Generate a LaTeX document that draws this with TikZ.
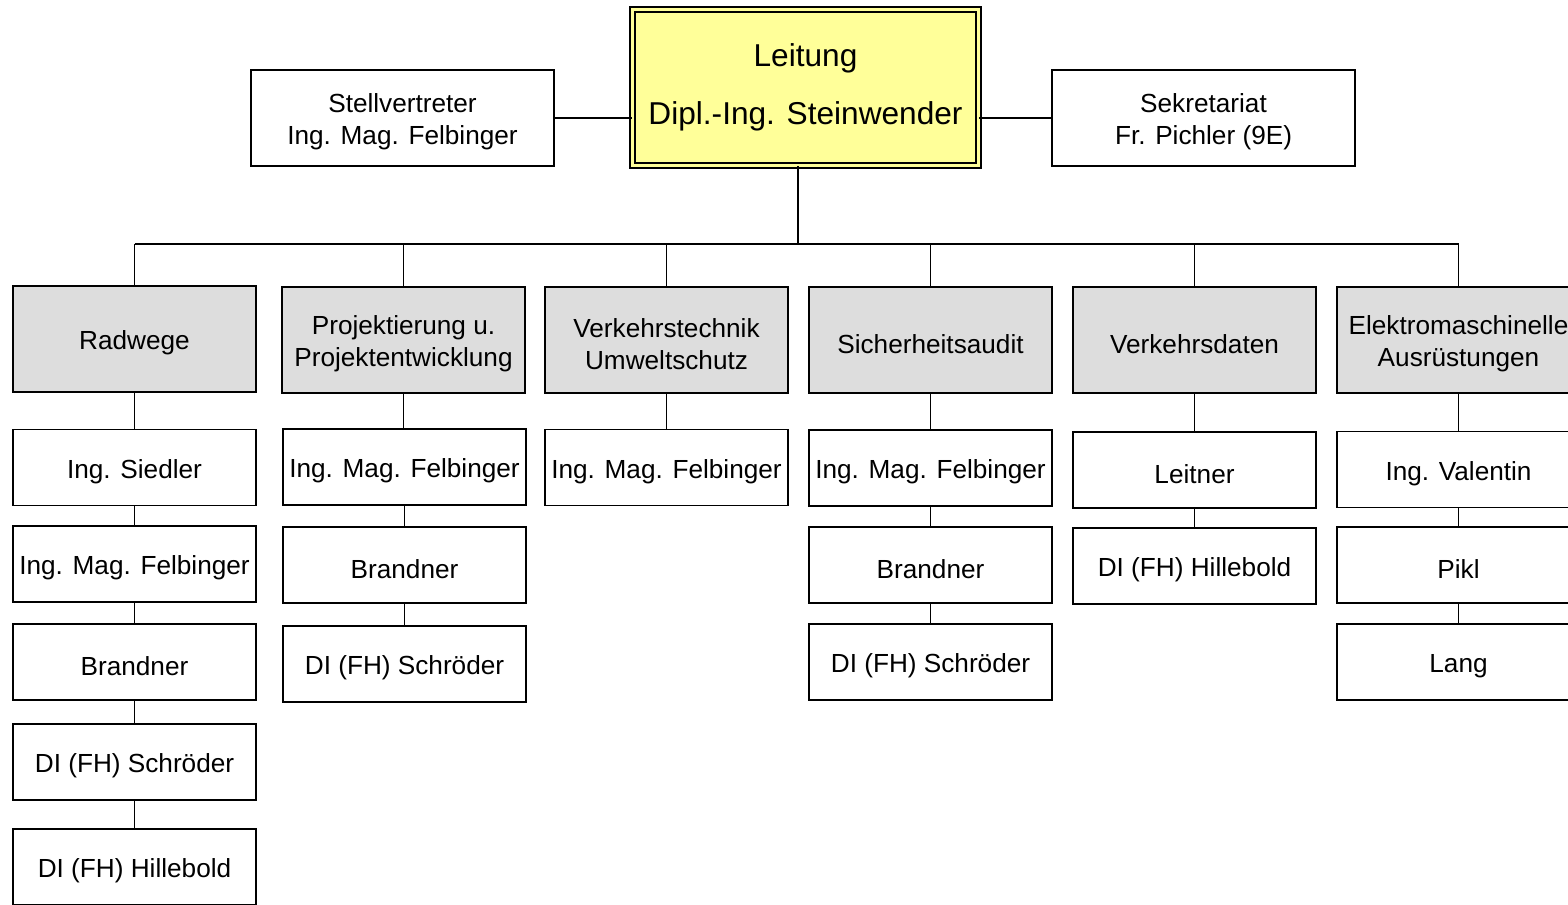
\documentclass[tikz,border=0pt]{standalone}
\usepackage{fontspec}
\setmainfont{Liberation Sans}
\definecolor{leitgelb}{HTML}{FFFF99}
\definecolor{bereichgrau}{HTML}{DDDDDD}
\tikzset{
  kasten/.style={draw, line width=1.1pt, fill=white, inner sep=0pt, align=center,
    minimum width=4.86cm, minimum height=1.52cm, font=\fontsize{14.9}{18.2}\selectfont,
    execute at begin node={\rule{0pt}{15.4pt}}},
  zwei/.style={execute at begin node={\rule{0pt}{33.6pt}}},
  bereich/.style={kasten, fill=bereichgrau, minimum height=2.12cm},
  stab/.style={kasten, zwei, minimum width=6.06cm, minimum height=1.92cm},
  linie/.style={line width=1.1pt},
}
\begin{document}
\begin{tikzpicture}[x=0.02cm,y=-0.02cm]
\clip (0,0) rectangle (1568,904);
\fill[white] (0,0) rectangle (1568,904);

% Leitung und Stab
\node[draw, line width=1.1pt, double=leitgelb, double distance=1.6pt, fill=leitgelb,
  minimum width=6.92cm, minimum height=3.12cm, inner sep=0pt, align=center,
  font=\fontsize{18}{33}\selectfont] (leitung) at (805.5,87.5) {Leitung\\Dipl.-Ing. Steinwender};
\node[stab] (stellv) at (402.5,118) {Stellvertreter\\Ing. Mag. Felbinger};
\node[stab] (sekr) at (1203.5,118) {Sekretariat\\Fr. Pichler (9E)};
\draw[linie] (stellv.east) -- (stellv.east -| leitung.west);
\draw[linie] (sekr.west) -- (sekr.west -| leitung.east);

% Bereiche
\node[bereich] (radwege) at (134.5,339) {Radwege};
\node[bereich, zwei] (projekt) at (403.5,340) {Projektierung u.\\Projektentwicklung};
\node[bereich, zwei] (vtechnik) at (666.5,340) {Verkehrstechnik\\Umweltschutz};
\node[bereich] (audit) at (930.5,340) {Sicherheitsaudit};
\node[bereich] (vdaten) at (1194.5,340) {Verkehrsdaten};
\node[bereich, zwei] (emaschin) at (1458.5,340) {Elektromaschinelle\\Ausrüstungen};

\coordinate (bus) at (798,244);
\draw[linie] (bus) -- (bus |- leitung.south);
\draw[linie] (bus -| radwege) -- (bus -| emaschin);
\foreach \b in {radwege,projekt,vtechnik,audit,vdaten,emaschin}
  \draw[linie] (\b.north) -- (bus -| \b.north);

% Radwege
\node[kasten] (rw1) at (134.5,467.5) {Ing. Siedler};
\node[kasten] (rw2) at (134.5,564) {Ing. Mag. Felbinger};
\node[kasten] (rw3) at (134.5,662) {Brandner};
\node[kasten] (rw4) at (134.5,762) {DI (FH) Schröder};
\node[kasten] (rw5) at (134.5,867) {DI (FH) Hillebold};
\draw[linie] (radwege) -- (rw1) -- (rw2) -- (rw3) -- (rw4) -- (rw5);

% Projektierung
\node[kasten] (pj1) at (404.5,467) {Ing. Mag. Felbinger};
\node[kasten] (pj2) at (404.5,565) {Brandner};
\node[kasten] (pj3) at (404.5,664) {DI (FH) Schröder};
\draw[linie] (projekt.south) -- (projekt.south |- pj1.north);
\draw[linie] (pj1) -- (pj2) -- (pj3);

% Verkehrstechnik
\node[kasten] (vt1) at (666.5,467.5) {Ing. Mag. Felbinger};
\draw[linie] (vtechnik) -- (vt1);

% Sicherheitsaudit
\node[kasten] (sa1) at (930.5,468) {Ing. Mag. Felbinger};
\node[kasten] (sa2) at (930.5,565) {Brandner};
\node[kasten] (sa3) at (930.5,662) {DI (FH) Schröder};
\draw[linie] (audit) -- (sa1) -- (sa2) -- (sa3);

% Verkehrsdaten
\node[kasten] (vd1) at (1194.5,470) {Leitner};
\node[kasten] (vd2) at (1194.5,566) {DI (FH) Hillebold};
\draw[linie] (vdaten) -- (vd1) -- (vd2);

% Elektromaschinelle Ausruestungen
\node[kasten] (em1) at (1458.5,469.5) {Ing. Valentin};
\node[kasten] (em2) at (1458.5,565) {Pikl};
\node[kasten] (em3) at (1458.5,662) {Lang};
\draw[linie] (emaschin) -- (em1) -- (em2) -- (em3);
\end{tikzpicture}
\end{document}
